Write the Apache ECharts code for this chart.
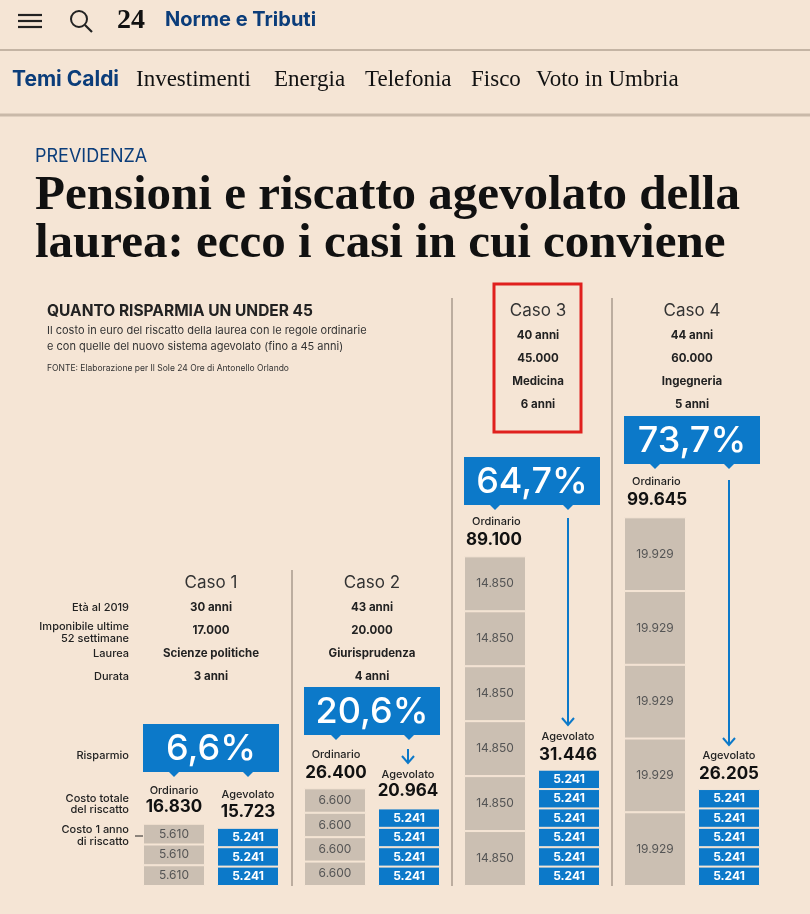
<!DOCTYPE html>
<html>
<head>
<meta charset="utf-8">
<script src="https://cdn.jsdelivr.net/npm/echarts@6/dist/echarts.min.js"></script>
<style>
  html, body { margin: 0; padding: 0; background: #f5e5d5; }
  #chart { width: 810px; height: 914px; }
</style>
</head>
<body>
<div id="chart"></div>
<script>
// dati: costo di ogni anno di riscatto (blocchi impilati)
var casi = ["Caso 1", "Caso 2", "Caso 3", "Caso 4"];
var ordinarioBlocchi = [
    [5610, 5610, 5610],
    [6600, 6600, 6600, 6600],
    [14850, 14850, 14850, 14850, 14850, 14850],
    [19929, 19929, 19929, 19929, 19929]
];
var agevolatoBlocchi = [
    [5241, 5241, 5241],
    [5241, 5241, 5241, 5241],
    [5241, 5241, 5241, 5241, 5241, 5241],
    [5241, 5241, 5241, 5241, 5241]
];
var totaleOrdinario = ["16.830", "26.400", "89.100", "99.645"];
var totaleAgevolato = ["15.723", "20.964", "31.446", "26.205"];
var risparmio = ["6,6%", "20,6%", "64,7%", "73,7%"];
var eta = ["30 anni", "43 anni", "40 anni", "44 anni"];
var imponibile = ["17.000", "20.000", "45.000", "60.000"];
var laurea = ["Scienze politiche", "Giurisprudenza", "Medicina", "Ingegneria"];
var durata = ["3 anni", "4 anni", "6 anni", "5 anni"];

var BG = "#f5e5d5", BLUE = "#0c79c9", GREY = "#cbbfb2", NAVY = "#0b3d7a";
var SANS = "Inter, 'Noto Sans', sans-serif";
var SERIF = "'Liberation Serif', 'DejaVu Serif', serif";

function fmt(v) { return (v / 1000).toFixed(3); }

var gridLeft = [137, 298, 458, 618];
var grids = [], xAxes = [], yAxes = [], series = [];
casi.forEach(function (c, g) {
    grids.push({ left: gridLeft[g], width: 148, top: 442, bottom: 28 });
    xAxes.push({ gridIndex: g, type: "category", data: ["Ordinario", "Agevolato"], show: false });
    yAxes.push({ gridIndex: g, type: "value", min: 0, max: 120000, show: false });
    for (var k = 0; k < 6; k++) {
        var o = ordinarioBlocchi[g][k], a = agevolatoBlocchi[g][k];
        series.push({
            type: "bar", xAxisIndex: g, yAxisIndex: g, stack: "s" + g, barWidth: 62,
            silent: true, animation: false,
            itemStyle: { borderColor: BG, borderWidth: 1 },
            label: {
                show: true, position: "inside", fontFamily: SANS, fontSize: 12,
                formatter: function (p) { return fmt(p.value); }
            },
            data: [
                o === undefined ? "-" : { value: o, itemStyle: { color: GREY }, label: { color: "#555" } },
                a === undefined ? "-" : { value: a, itemStyle: { color: BLUE }, label: { color: "#fff", fontWeight: "bold" } }
            ]
        });
    }
});

var gfx = [];
function txt(x, y, s, size, opt) {
    opt = opt || {};
    gfx.push({
        type: "text", x: x, y: y, silent: true,
        style: {
            text: s, fontSize: size, fontFamily: opt.font || SANS, fontWeight: opt.weight || "normal",
            fill: opt.color || "#222", align: opt.align || "center", verticalAlign: "middle"
        }
    });
}
function line(x1, y1, x2, y2, color, w) {
    gfx.push({ type: "line", silent: true, shape: { x1: x1, y1: y1, x2: x2, y2: y2 }, style: { stroke: color, lineWidth: w } });
}
function arrow(x, y1, y2) {
    line(x, y1, x, y2, BLUE, 2);
    gfx.push({ type: "polyline", silent: true, shape: { points: [[x - 6, y2 - 7], [x, y2], [x + 6, y2 - 7]] }, style: { stroke: BLUE, lineWidth: 2, fill: null } });
}
function box(x, y, label, ptA, ptB) {
    gfx.push({ type: "rect", silent: true, shape: { x: x, y: y, width: 136, height: 48 }, style: { fill: BLUE } });
    [ptA, ptB].forEach(function (px) {
        gfx.push({ type: "polygon", silent: true, shape: { points: [[px - 5, y + 48], [px + 5, y + 48], [px, y + 53]] }, style: { fill: BLUE } });
    });
    txt(x + 68, y + 25, label, 36, { color: "#fff", weight: 500 });
}

// header
[15, 21, 27].forEach(function (y) { line(18, y, 42, y, "#222", 2.2); });
gfx.push({ type: "circle", silent: true, shape: { cx: 79, cy: 19, r: 8 }, style: { stroke: "#222", lineWidth: 2, fill: null } });
line(85, 25, 92, 32, "#222", 2.2);
txt(131, 21, "24", 28, { font: SERIF, weight: "bold", color: "#111" });
txt(165, 20, "Norme e Tributi", 20, { weight: "bold", color: NAVY, align: "left" });
line(0, 50, 810, 50, "#c4b4a4", 2);
txt(12, 80, "Temi Caldi", 21, { weight: "bold", color: NAVY, align: "left" });
[["Investimenti", 136], ["Energia", 274], ["Telefonia", 365], ["Fisco", 471], ["Voto in Umbria", 536]].forEach(function (n) {
    txt(n[1], 80, n[0], 23, { font: SERIF, color: "#111", align: "left" });
});
line(0, 115, 810, 115, "#c9b9a9", 3);
txt(35, 157, "PREVIDENZA", 18, { color: NAVY, align: "left" });
txt(35, 196, "Pensioni e riscatto agevolato della", 49, { font: SERIF, weight: "bold", color: "#111", align: "left" });
txt(35, 244, "laurea: ecco i casi in cui conviene", 49, { font: SERIF, weight: "bold", color: "#111", align: "left" });

// infografica: intestazione
txt(47, 311, "QUANTO RISPARMIA UN UNDER 45", 15.5, { weight: "bold", align: "left" });
txt(47, 331, "Il costo in euro del riscatto della laurea con le regole ordinarie", 11, { color: "#333", align: "left" });
txt(47, 347, "e con quelle del nuovo sistema agevolato (fino a 45 anni)", 11, { color: "#333", align: "left" });
txt(47, 368, "FONTE: Elaborazione per Il Sole 24 Ore di Antonello Orlando", 8.5, { color: "#333", align: "left" });

line(292, 570, 292, 886, "#a89a8c", 1.5);
line(452, 298, 452, 886, "#a89a8c", 1.5);
line(612, 298, 612, 886, "#a89a8c", 1.5);

// etichette di riga
[["Età al 2019", 608], ["Imponibile ultime", 627], ["52 settimane", 639], ["Laurea", 654], ["Durata", 677],
 ["Risparmio", 756], ["Costo totale", 799], ["del riscatto", 810], ["Costo 1 anno", 830], ["di riscatto", 842]].forEach(function (r) {
    txt(129, r[1], r[0], 11, { color: "#222", align: "right", weight: 500 });
});
line(135, 836, 144, 836, "#222", 1);
gfx.push({ type: "circle", silent: true, shape: { cx: 145, cy: 836, r: 1.5 }, style: { fill: "#222" } });

// intestazioni dei casi
var headCx = [211, 372, 538, 692];
var headY = [583, 583, 311, 311];
casi.forEach(function (c, g) {
    var y = headY[g];
    txt(headCx[g], y, c, 17, { color: "#333" });
    [eta, imponibile, laurea, durata].forEach(function (arr, i) {
        txt(headCx[g], y + 25 + [0, 23, 46, 69][i], arr[g], 11.5, { weight: "bold" });
    });
});
gfx.push({ type: "rect", silent: true, shape: { x: 494, y: 284, width: 87, height: 148 }, style: { stroke: "#e0201e", lineWidth: 3, fill: null } });

// box risparmio
box(143, 724, risparmio[0], 174, 248);
box(304, 687, risparmio[1], 336, 409);
box(464, 457, risparmio[2], 495, 568);
box(624, 416, risparmio[3], 655, 729);

// totali
txt(174, 791, "Ordinario", 11, { weight: 500 });
txt(174, 807, totaleOrdinario[0], 17, { weight: "bold", color: "#111" });
txt(248, 795, "Agevolato", 11, { weight: 500 });
txt(248, 812, totaleAgevolato[0], 17, { weight: "bold", color: "#111" });

txt(336, 755, "Ordinario", 11, { weight: 500 });
txt(336, 773, totaleOrdinario[1], 17, { weight: "bold", color: "#111" });
arrow(408, 749, 763);
txt(408, 775, "Agevolato", 11, { weight: 500 });
txt(408, 791, totaleAgevolato[1], 17, { weight: "bold", color: "#111" });

txt(472, 522, "Ordinario", 11, { align: "left", weight: 500 });
txt(466, 540, totaleOrdinario[2], 17, { weight: "bold", color: "#111", align: "left" });
arrow(568, 518, 725);
txt(568, 737, "Agevolato", 11, { weight: 500 });
txt(568, 755, totaleAgevolato[2], 17, { weight: "bold", color: "#111" });

txt(632, 482, "Ordinario", 11, { align: "left", weight: 500 });
txt(627, 500, totaleOrdinario[3], 17, { weight: "bold", color: "#111", align: "left" });
arrow(729, 480, 745);
txt(729, 756, "Agevolato", 11, { weight: 500 });
txt(729, 774, totaleAgevolato[3], 17, { weight: "bold", color: "#111" });

var chart = echarts.init(document.getElementById("chart"));
chart.setOption({
    backgroundColor: BG,
    animation: false,
    grid: grids, xAxis: xAxes, yAxis: yAxes, series: series,
    graphic: gfx
});
</script>
</body>
</html>
